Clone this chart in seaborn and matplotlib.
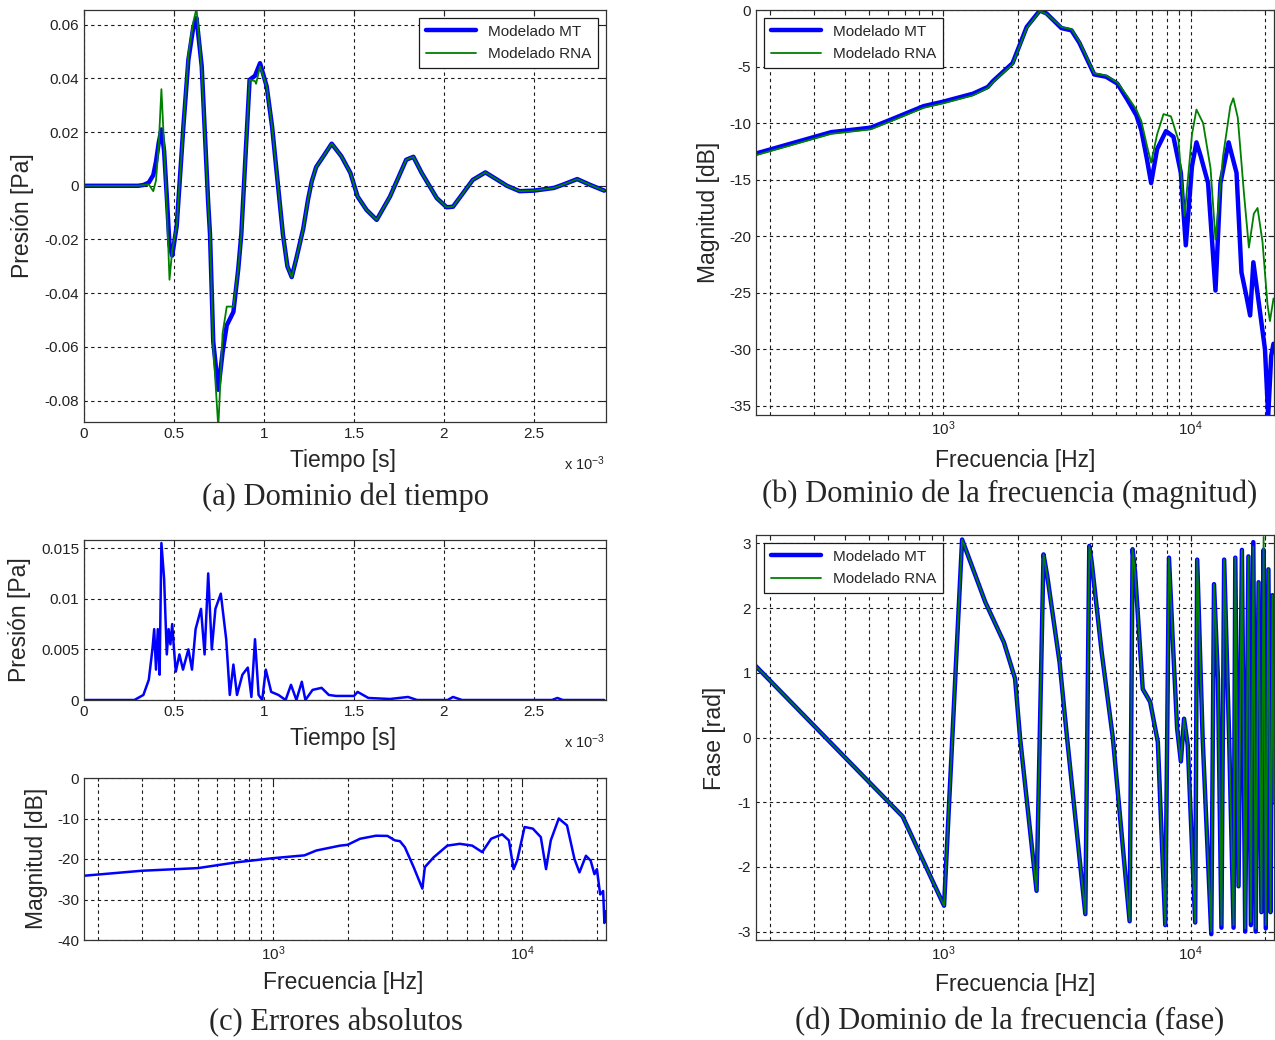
import numpy as np
import pandas as pd
import matplotlib
matplotlib.use('Agg')
import matplotlib.pyplot as plt
import matplotlib.ticker as mticker
import seaborn as sns

# (a) dominio del tiempo, tiempo en ms (x 10^-3 s)
t_ms = [0.00, 0.30, 0.33, 0.36, 0.385, 0.40, 0.415, 0.43, 0.445, 0.46, 0.475, 0.49,
        0.515, 0.552, 0.58, 0.607, 0.625, 0.654, 0.69, 0.70, 0.718, 0.746, 0.77, 0.793,
        0.83, 0.857, 0.874, 0.92, 0.95, 0.956, 0.978, 1.015, 1.045, 1.075, 1.105, 1.13,
        1.154, 1.18, 1.218, 1.245, 1.265, 1.29, 1.33, 1.376, 1.43, 1.48, 1.52, 1.57,
        1.626, 1.70, 1.79, 1.83, 1.876, 1.96, 2.015, 2.05, 2.16, 2.23, 2.35, 2.42,
        2.50, 2.61, 2.66, 2.74, 2.81, 2.89]
p_mt = [0, 0, 0.0003, 0.0012, 0.004, 0.009, 0.016, 0.021, 0.013, -0.004, -0.022, -0.026,
        -0.015, 0.022, 0.047, 0.059, 0.0625, 0.0445, -0.0065, -0.018, -0.058, -0.076, -0.062, -0.052,
        -0.047, -0.031, -0.018, 0.0395, 0.041, 0.042, 0.0457, 0.037, 0.022, 0.002, -0.018, -0.030,
        -0.034, -0.027, -0.016, -0.005, 0.0016, 0.007, 0.011, 0.0157, 0.011, 0.0048, -0.004, -0.009,
        -0.0127, -0.004, 0.0097, 0.0108, 0.0048, -0.0046, -0.008, -0.0078, 0.0022, 0.005, 0.0, -0.002,
        -0.0018, -0.0008, 0.0004, 0.0025, 0.0004, -0.0018]
p_rna = [0, 0, 0.0003, 0.0005, -0.002, 0.002, 0.015, 0.036, 0.015, -0.008, -0.035, -0.024,
         -0.015, 0.022, 0.049, 0.061, 0.066, 0.043, -0.0065, -0.018, -0.060, -0.090, -0.055, -0.045,
         -0.045, -0.031, -0.018, 0.0395, 0.039, 0.038, 0.0445, 0.037, 0.022, 0.002, -0.018, -0.030,
         -0.034, -0.027, -0.016, -0.005, 0.0016, 0.007, 0.011, 0.0157, 0.011, 0.0048, -0.004, -0.009,
         -0.0127, -0.004, 0.0097, 0.0108, 0.0048, -0.0046, -0.008, -0.0078, 0.0022, 0.005, 0.0, -0.002,
         -0.0018, -0.0008, 0.0004, 0.0025, 0.0004, -0.0018]

# (b) magnitud [dB]
f_mag_mt = [174, 243, 352, 509, 612, 832, 1000, 1318, 1514, 1585, 1905, 2173, 2455, 2612,
            3000, 3296, 3548, 4074, 4550, 5047, 5534, 6026, 6310, 6653, 6918, 7311, 7943,
            8511, 9120, 9550, 10116, 10544, 10965, 11749, 12589, 13183, 14223, 15311, 16032,
            16788, 17378, 17906, 19055, 19953, 20560, 21135, 21600]
mag_mt = [-12.7, -11.8, -10.8, -10.4, -9.7, -8.5, -8.1, -7.4, -6.8, -6.3, -4.7, -1.5, -0.05, -0.3,
          -1.6, -1.8, -2.9, -5.7, -5.9, -6.5, -7.9, -9.3, -10.6, -13.2, -15.3, -12.3, -10.7,
          -11.2, -14.4, -20.8, -13.8, -11.7, -12.9, -15.3, -24.8, -15.3, -11.7, -14.4, -23.2,
          -25.3, -27.0, -22.3, -26.7, -30.0, -35.9, -30.6, -29.5]
f_mag_rna = [174, 243, 352, 509, 612, 832, 1000, 1318, 1514, 1585, 1905, 2173, 2455, 2612,
             3000, 3296, 3548, 4074, 4550, 5047, 5534, 6026, 6310, 6653, 6918, 7311, 7762,
             8318, 8913, 9441, 10116, 10544, 11220, 12023, 12589, 13490, 14454, 14859, 15488,
             16406, 17179, 17989, 18621, 19498, 20417, 20893, 21600]
mag_rna = [-12.85, -11.95, -10.95, -10.55, -9.85, -8.65, -8.25, -7.55, -6.9, -6.4, -4.8, -1.6, -0.1, -0.35,
           -1.5, -1.7, -2.8, -5.6, -5.8, -6.4, -7.6, -8.8, -9.8, -12.0, -13.5, -11.0, -9.2,
           -9.4, -11.5, -18.2, -11.0, -8.8, -10.0, -14.0, -20.3, -13.0, -8.5, -7.8, -9.5,
           -16.2, -21.0, -18.0, -17.5, -20.5, -26.0, -27.5, -25.5]

# (c) errores absolutos en el tiempo
t_err_ms = [0.00, 0.28, 0.30, 0.33, 0.36, 0.38, 0.39, 0.40, 0.41, 0.42, 0.43, 0.445, 0.46,
            0.47, 0.48, 0.49, 0.50, 0.51, 0.53, 0.55, 0.58, 0.60, 0.62, 0.65, 0.67, 0.69,
            0.71, 0.73, 0.76, 0.79, 0.81, 0.83, 0.85, 0.88, 0.91, 0.93, 0.95, 0.97, 0.99,
            1.01, 1.04, 1.08, 1.12, 1.15, 1.18, 1.21, 1.23, 1.27, 1.32, 1.36, 1.40, 1.50,
            1.52, 1.58, 1.70, 1.80, 1.85, 2.02, 2.05, 2.10, 2.60, 2.63, 2.66, 2.89]
err_t = [0, 0, 0.0002, 0.0005, 0.002, 0.005, 0.007, 0.003, 0.007, 0.0025, 0.0155, 0.012, 0.0045,
         0.007, 0.0055, 0.0075, 0.005, 0.0028, 0.0045, 0.003, 0.005, 0.003, 0.007, 0.009, 0.0045, 0.0125,
         0.005, 0.009, 0.0105, 0.006, 0.0005, 0.0035, 0.0005, 0.0025, 0.0032, 0.0003, 0.006, 0.0005, 0.0,
         0.003, 0.0008, 0.0005, 0.0, 0.0015, 0.0, 0.0018, 0.0, 0.001, 0.0012, 0.0005, 0.0004, 0.0004,
         0.0008, 0.0002, 0.0001, 0.0003, 0.0, 0.0, 0.0003, 0.0, 0.0, 0.0002, 0.0, 0.0]

# (c) errores absolutos en frecuencia
f_err = [170, 299, 501, 719, 1000, 1340, 1496, 1862, 1995, 2239, 2594, 2884, 3090, 3236,
         3388, 3673, 3981, 4074, 4416, 5012, 5623, 6310, 6918, 7516, 8318, 8851, 9247,
         9550, 10233, 11041, 11885, 12474, 13032, 14028, 15136, 16218, 16982, 18030, 18836,
         19498, 19953, 20560, 21135, 21380, 21677]
err_db = [-24.2, -22.9, -22.25, -20.8, -19.8, -19.1, -17.9, -16.7, -16.5, -15.0, -14.25, -14.3, -15.4, -15.6,
          -17.1, -22.0, -27.3, -22.0, -19.6, -16.7, -16.25, -16.7, -18.3, -15.0, -13.9, -15.4, -22.5,
          -20.4, -12.1, -12.5, -14.6, -22.5, -15.4, -10.0, -11.7, -20.0, -23.3, -19.2, -20.4,
          -23.75, -22.5, -28.75, -27.9, -35.8, -32.9]

# (d) fase [rad]
f_fase = [169, 685, 1007, 1191, 1479, 1758, 1950, 2042, 2382, 2541, 2630, 2951, 3162, 3750,
          3890, 3981, 4365, 4842, 5662, 5821, 5957, 6397, 6855, 7362, 7889, 8166, 8453,
          8810, 9120, 9397, 9727, 10423, 10617, 11169, 12106, 12417, 12882, 13305, 13646,
          14289, 14894, 15136, 15600, 16100, 16600, 17100, 17500, 17900, 18300, 18800,
          19300, 19700, 20100, 20600, 21000, 21400, 21650]
fase_mt = [1.16, -1.22, -2.60, 3.06, 2.09, 1.47, 0.91, 0.0, -2.37, 2.83, 2.50, 1.16, 0.0, -2.73,
           2.96, 2.70, 1.32, 0.0, -2.84, 2.91, 2.55, 0.75, 0.55, -0.07, -2.90, 2.78, 1.52,
           0.14, -0.37, 0.29, -0.12, -2.86, 2.75, 0.0, -3.04, 2.37, 0.90, -2.94, 2.75,
           0.0, -2.94, 2.78, -2.30, 2.90, -3.00, 2.80, -2.90, 3.02, -3.00, 2.40,
           -2.70, 2.90, -2.95, 2.60, -2.70, 2.20, -1.00]
fase_rna = [1.16, -1.22, -2.60, 3.06, 2.09, 1.47, 0.91, 0.0, -2.37, 2.83, 2.50, 1.16, 0.0, -2.73,
            2.96, 2.70, 1.32, 0.0, -2.84, 2.91, 2.55, 0.75, 0.55, -0.07, -2.90, 2.78, 1.52,
            0.14, -0.37, 0.29, -0.12, -2.86, 2.75, 0.0, -3.00, 2.37, 0.90, -2.90, 2.75,
            0.0, -2.90, 2.78, -2.30, 2.90, -2.95, 2.80, -2.85, 2.95, -2.95, 2.40,
            -2.70, 3.10, -2.90, 2.60, -2.70, 2.20, -1.00]

AZUL = '#0000ff'
VERDE = '#008000'
W, H = 1275, 1040

sns.set_theme(style='white')
plt.rcParams['font.family'] = ['Liberation Sans', 'DejaVu Sans']
plt.rcParams['mathtext.fontset'] = 'custom'
plt.rcParams['mathtext.rm'] = 'Liberation Sans'
plt.rcParams['mathtext.it'] = 'Liberation Sans'
plt.rcParams['axes.unicode_minus'] = False

fig = plt.figure(figsize=(W / 100, H / 100), dpi=100)
fig.patch.set_facecolor('white')


def caja(x0, y0, x1, y1):
    # rectangulo en pixeles (desde arriba) -> fraccion de figura
    return fig.add_axes([x0 / W, 1 - y1 / H, (x1 - x0) / W, (y1 - y0) / H])


def estilo(ax, log=False):
    for s in ax.spines.values():
        s.set_visible(True)
        s.set_color('#333333')
        s.set_linewidth(0.9)
    ax.tick_params(which='both', direction='in', top=True, right=True,
                   colors='#222222', labelsize=11, length=4, width=0.8)
    ax.tick_params(which='minor', length=2.5)
    ax.grid(True, which='major', color='k', linestyle=(0, (3, 3)), linewidth=0.8)
    if log:
        ax.grid(True, which='minor', color='k', linestyle=(0, (3, 3)), linewidth=0.8)
    ax.set_facecolor('white')


def etiquetas(ax, xl, xy, yl, yx):
    ax.set_xlabel(xl, fontsize=16.5, va='center', ha='center')
    ax.xaxis.set_label_coords(xy[0] / W, 1 - xy[1] / H, transform=fig.transFigure)
    ax.set_ylabel(yl, fontsize=16.5, va='center', ha='center')
    ax.yaxis.set_label_coords(yx[0] / W, 1 - yx[1] / H, transform=fig.transFigure)


def leyenda(ax, loc):
    leg = ax.legend(loc=loc, frameon=True, fancybox=False, edgecolor='k', fontsize=11,
                    handlelength=3.3, borderpad=0.45, labelspacing=0.55, framealpha=1,
                    borderaxespad=0.5)
    leg.get_frame().set_linewidth(0.9)


def ejes_log(ax):
    ax.set_xscale('log')
    ax.set_xlim(175, 21700)
    ax.xaxis.set_major_locator(mticker.LogLocator(base=10))
    ax.xaxis.set_minor_locator(mticker.LogLocator(base=10, subs=np.arange(2, 10)))
    ax.xaxis.set_minor_formatter(mticker.NullFormatter())


t_ticks = [0, 0.5, 1, 1.5, 2, 2.5]
t_labels = ['0', '0.5', '1', '1.5', '2', '2.5']

# ---- (a)
ax = caja(84, 10, 606, 422)
sns.lineplot(x=t_ms, y=p_mt, ax=ax, color=AZUL, lw=3.2, estimator=None, sort=False, label='Modelado MT')
sns.lineplot(x=t_ms, y=p_rna, ax=ax, color=VERDE, lw=1.3, estimator=None, sort=False, label='Modelado RNA')
ax.set_xlim(0, 2.9)
ax.set_ylim(-0.088, 0.0655)
ax.set_xticks(t_ticks, t_labels)
yt = [-0.08, -0.06, -0.04, -0.02, 0, 0.02, 0.04, 0.06]
ax.set_yticks(yt, ['%g' % v for v in yt])
estilo(ax)
etiquetas(ax, 'Tiempo [s]', (343, 460), 'Presión [Pa]', (22, 216))
leyenda(ax, 'upper right')
fig.text(585 / W, 1 - 464 / H, r'x 10$^{\mathregular{-3}}$', fontsize=10.5, ha='center', va='center', color='#222222')

# ---- (b)
ax = caja(756, 10, 1274, 415)
sns.lineplot(x=f_mag_mt, y=mag_mt, ax=ax, color=AZUL, lw=3.2, estimator=None, sort=False, label='Modelado MT')
sns.lineplot(x=f_mag_rna, y=mag_rna, ax=ax, color=VERDE, lw=1.3, estimator=None, sort=False, label='Modelado RNA')
ejes_log(ax)
ax.set_ylim(-35.8, 0)
yt = [-35, -30, -25, -20, -15, -10, -5, 0]
ax.set_yticks(yt, ['%g' % v for v in yt])
estilo(ax, log=True)
etiquetas(ax, 'Frecuencia [Hz]', (1015, 460), 'Magnitud [dB]', (708, 212))
leyenda(ax, 'upper left')

# ---- (c) tiempo
ax = caja(84, 540, 606, 700)
sns.lineplot(x=t_err_ms, y=err_t, ax=ax, color=AZUL, lw=1.8, estimator=None, sort=False)
ax.set_xlim(0, 2.9)
ax.set_ylim(0, 0.0158)
ax.set_xticks(t_ticks, t_labels)
yt = [0, 0.005, 0.01, 0.015]
ax.set_yticks(yt, ['%g' % v for v in yt])
estilo(ax)
etiquetas(ax, 'Tiempo [s]', (343, 738), 'Presión [Pa]', (20, 620))
fig.text(585 / W, 1 - 742 / H, r'x 10$^{\mathregular{-3}}$', fontsize=10.5, ha='center', va='center', color='#222222')

# ---- (c) frecuencia
ax = caja(84, 778, 606, 940)
sns.lineplot(x=f_err, y=err_db, ax=ax, color=AZUL, lw=1.8, estimator=None, sort=False)
ejes_log(ax)
ax.set_ylim(-40, 0)
yt = [-40, -30, -20, -10, 0]
ax.set_yticks(yt, ['%g' % v for v in yt])
estilo(ax, log=True)
etiquetas(ax, 'Frecuencia [Hz]', (343, 983), 'Magnitud [dB]', (36, 858))

# ---- (d)
ax = caja(756, 535, 1274, 940)
sns.lineplot(x=f_fase, y=fase_mt, ax=ax, color=AZUL, lw=3.2, estimator=None, sort=False, label='Modelado MT')
sns.lineplot(x=f_fase, y=fase_rna, ax=ax, color=VERDE, lw=1.3, estimator=None, sort=False, label='Modelado RNA')
ejes_log(ax)
ax.set_ylim(-3.13, 3.13)
yt = [-3, -2, -1, 0, 1, 2, 3]
ax.set_yticks(yt, ['%g' % v for v in yt])
estilo(ax, log=True)
etiquetas(ax, 'Frecuencia [Hz]', (1015, 985), 'Fase [rad]', (715, 738))
leyenda(ax, 'upper left')

# ---- subtitulos
serif = ['Liberation Serif', 'DejaVu Serif']
fig.text(345 / W, 1 - 497 / H, '(a) Dominio del tiempo', family=serif, fontsize=22, ha='center', va='center')
fig.text(1010 / W, 1 - 494 / H, '(b) Dominio de la frecuencia (magnitud)', family=serif, fontsize=22, ha='center', va='center')
fig.text(336 / W, 1 - 1023 / H, '(c) Errores absolutos', family=serif, fontsize=22, ha='center', va='center')
fig.text(1010 / W, 1 - 1022 / H, '(d) Dominio de la frecuencia (fase)', family=serif, fontsize=22, ha='center', va='center')

fig.savefig('out.png', dpi=100, facecolor='white')
